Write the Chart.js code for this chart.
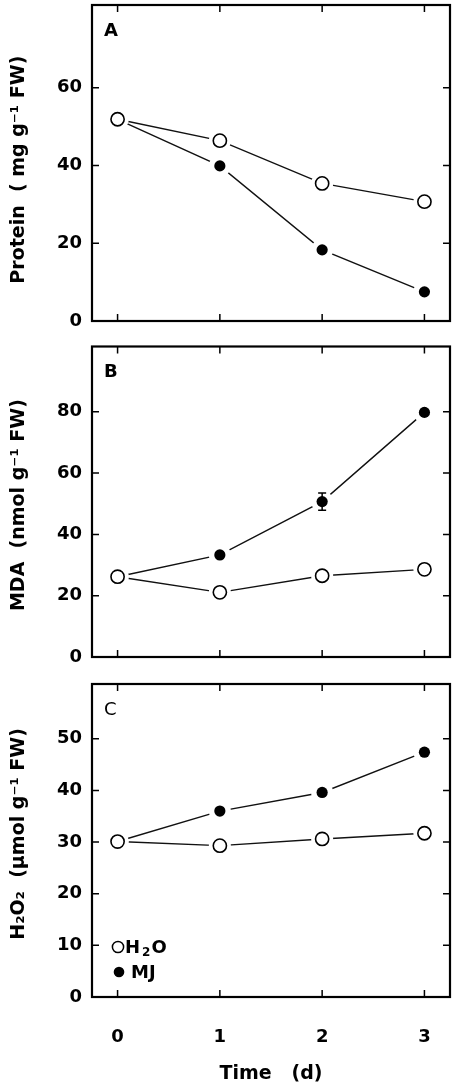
<!DOCTYPE html>
<html><head><meta charset="utf-8">
<script src="https://cdn.jsdelivr.net/npm/chart.js@4/dist/chart.umd.min.js"></script>
<style>
html,body{margin:0;padding:0;background:#fff;width:452px;height:1083px;overflow:hidden;}
.panel{position:absolute;left:0;width:452px;}
canvas{display:block;}
</style></head><body>
<div class="panel" style="top:0px;"><canvas id="cA" width="452" height="330"></canvas></div>
<div class="panel" style="top:335px;"><canvas id="cB" width="452" height="330"></canvas></div>
<div class="panel" style="top:670px;"><canvas id="cC" width="452" height="413"></canvas></div>
<script>
// ---- data ----
const days = [0, 1, 2, 3];
const xTicks = [0, 1, 2, 3];
const proteinH2O = [51.9, 46.4, 35.4, 30.7];
const proteinMJ  = [51.9, 39.9, 18.3, 7.5];
const proteinTicks = [0, 20, 40, 60];
const mdaH2O = [26.2, 21.1, 26.5, 28.6];
const mdaMJ  = [26.2, 33.3, 50.7, 79.8];
const mdaMJErr = [0, 0, 2.8, 0];
const mdaTicks = [0, 20, 40, 60, 80];
const h2o2H2O = [30.1, 29.3, 30.6, 31.7];
const h2o2MJ  = [30.1, 36.0, 39.6, 47.4];
const h2o2Ticks = [0, 10, 20, 30, 40, 50];
const seriesNames = [['H', '2', 'O'], ['MJ']];
const panelLetters = ['A', 'B', 'C'];
const yTitles = ['Protein  ( mg g⁻¹ FW)  ', 'MDA  (nmol g⁻¹ FW) ', '  H₂O₂  (μmol g⁻¹ FW)'];
const xTitle = 'Time   (d)';

Chart.defaults.font.family = "'DejaVu Sans', sans-serif";
Chart.defaults.color = '#000';
Chart.defaults.animation = false;

const FONT = "'DejaVu Sans', sans-serif";
const toXY = ys => days.map((d, i) => ({x: d, y: ys[i]}));

function zeroPad(s) { s.paddingTop = 0; s.paddingBottom = 0; s.paddingLeft = 0; s.paddingRight = 0; }

function drawParts(ctx, parts, x, y) {
  // parts: alternating normal / subscript pieces
  parts.forEach((p, k) => {
    const sub = k % 2 === 1;
    ctx.font = 'bold ' + (sub ? 12 : 18) + 'px ' + FONT;
    ctx.fillText(p, x, y + (sub ? 5 : 0));
    x += ctx.measureText(p).width + (sub ? 1 : 2);
  });
}

const decoPlugin = {
  id: 'deco',
  afterDatasetsDraw(chart) {
    const ctx = chart.ctx;
    chart.data.datasets.forEach((ds, i) => {
      if (!ds.errors) return;
      const meta = chart.getDatasetMeta(i);
      const ys = chart.scales.y;
      ctx.save();
      ctx.strokeStyle = '#000'; ctx.lineWidth = 1.5;
      ds.data.forEach((p, j) => {
        const e = ds.errors[j];
        if (!e) return;
        const px = meta.data[j].x;
        const y1 = ys.getPixelForValue(p.y + e), y2 = ys.getPixelForValue(p.y - e);
        ctx.beginPath();
        ctx.moveTo(px, y1); ctx.lineTo(px, y2);
        ctx.moveTo(px - 4, y1); ctx.lineTo(px + 4, y1);
        ctx.moveTo(px - 4, y2); ctx.lineTo(px + 4, y2);
        ctx.stroke();
      });
      ctx.restore();
    });
  },
  afterDraw(chart) {
    const ctx = chart.ctx;
    const o = chart.options.plugins.deco;
    const {left, right, top, bottom} = chart.chartArea;
    const TL = 7;
    ctx.save();
    ctx.strokeStyle = '#000';
    ctx.lineWidth = 1.5;
    ctx.beginPath();
    chart.scales.x.ticks.forEach(t => {
      const px = chart.scales.x.getPixelForValue(t.value);
      ctx.moveTo(px, bottom); ctx.lineTo(px, bottom - TL);
      ctx.moveTo(px, top); ctx.lineTo(px, top + TL);
    });
    chart.scales.y.ticks.forEach(t => {
      const py = chart.scales.y.getPixelForValue(t.value);
      ctx.moveTo(left, py); ctx.lineTo(left + TL, py);
      ctx.moveTo(right, py); ctx.lineTo(right - TL, py);
    });
    ctx.stroke();
    ctx.lineWidth = 2.2;
    ctx.strokeRect(left, top, right - left, bottom - top);
    ctx.fillStyle = '#000';
    ctx.font = (o.letterWeight || 'bold') + ' 18px ' + FONT;
    ctx.textAlign = 'left'; ctx.textBaseline = 'middle';
    ctx.fillText(o.letter, left + 12, top + 26);
    if (o.legend) {
      const cx = left + 26;
      const y1 = bottom - 50, y2 = bottom - 25;
      ctx.lineWidth = 1.5;
      ctx.beginPath(); ctx.arc(cx, y1, 5.6, 0, Math.PI * 2);
      ctx.fillStyle = '#fff'; ctx.fill(); ctx.stroke();
      ctx.beginPath(); ctx.arc(cx + 1, y2, 5.3, 0, Math.PI * 2);
      ctx.fillStyle = '#000'; ctx.fill();
      drawParts(ctx, seriesNames[0], cx + 7, y1 + 1);
      drawParts(ctx, seriesNames[1], cx + 13, y2 + 1);
    }
    ctx.restore();
  }
};

function makePanel(id, h2o, mj, mjErr, yTicks, yMax, idx, pad, showX) {
  const datasets = [
    {data: toXY(mj), borderColor: '#111', borderWidth: 1.4, pointRadius: 0, order: 10, fill: false},
    {data: toXY(h2o), borderColor: '#111', borderWidth: 1.4, pointRadius: 0, order: 9, fill: false},
    {data: toXY(mj), showLine: false, pointRadius: 11, pointBackgroundColor: '#fff', pointBorderWidth: 0, order: 6},
    {data: toXY(h2o), showLine: false, pointRadius: 11, pointBackgroundColor: '#fff', pointBorderWidth: 0, order: 5},
    {data: toXY(mj), showLine: false, pointRadius: 5.6, pointBackgroundColor: '#000', pointBorderWidth: 0, order: 3, errors: mjErr},
    {data: toXY(h2o), showLine: false, pointRadius: 6.6, pointBackgroundColor: '#fff', pointBorderColor: '#000', pointBorderWidth: 1.6, order: 2}
  ];
  return new Chart(document.getElementById(id), {
    type: 'line',
    data: {datasets},
    plugins: [decoPlugin],
    options: {
      responsive: false,
      animation: false,
      events: [],
      layout: {padding: pad, autoPadding: false},
      plugins: {
        legend: {display: false}, tooltip: {enabled: false},
        deco: {letter: panelLetters[idx], letterWeight: idx === 2 ? 'normal' : 'bold', legend: showX}
      },
      scales: {
        x: {
          type: 'linear', min: -0.25, max: 3.25,
          grid: {display: false, drawTicks: false}, border: {display: false},
          afterBuildTicks: s => { s.ticks = xTicks.map(v => ({value: v})); },
          afterFit: s => { s.height = showX ? 86 : 0; zeroPad(s); },
          ticks: {display: showX, padding: 30, font: {size: 18, weight: 'bold'}, color: '#000'},
          title: {display: showX, text: xTitle, font: {size: 19, weight: 'bold', lineHeight: 0.9}, padding: {top: 0, bottom: 0}, color: '#000'}
        },
        y: {
          type: 'linear', min: 0, max: yMax,
          grid: {display: false, drawTicks: false}, border: {display: false},
          afterBuildTicks: s => { s.ticks = yTicks.map(v => ({value: v})); },
          afterFit: s => { s.width = 92; zeroPad(s); },
          ticks: {padding: 10, font: {size: 18, weight: 'bold'}, color: '#000'},
          title: {display: true, text: yTitles[idx], font: {size: 19, weight: 'bold', lineHeight: 1}, padding: {top: 10, bottom: 0}, color: '#000'}
        }
      }
    }
  });
}

makePanel('cA', proteinH2O, proteinMJ, null, proteinTicks, 81.3, 0, {top: 5, right: 2, bottom: 9, left: 0}, false);
makePanel('cB', mdaH2O, mdaMJ, mdaMJErr, mdaTicks, 101.3, 1, {top: 11.5, right: 2, bottom: 8, left: 0}, false);
makePanel('cC', h2o2H2O, h2o2MJ, null, h2o2Ticks, 60.6, 2, {top: 14, right: 2, bottom: 0, left: 0}, true);
</script>
</body></html>
